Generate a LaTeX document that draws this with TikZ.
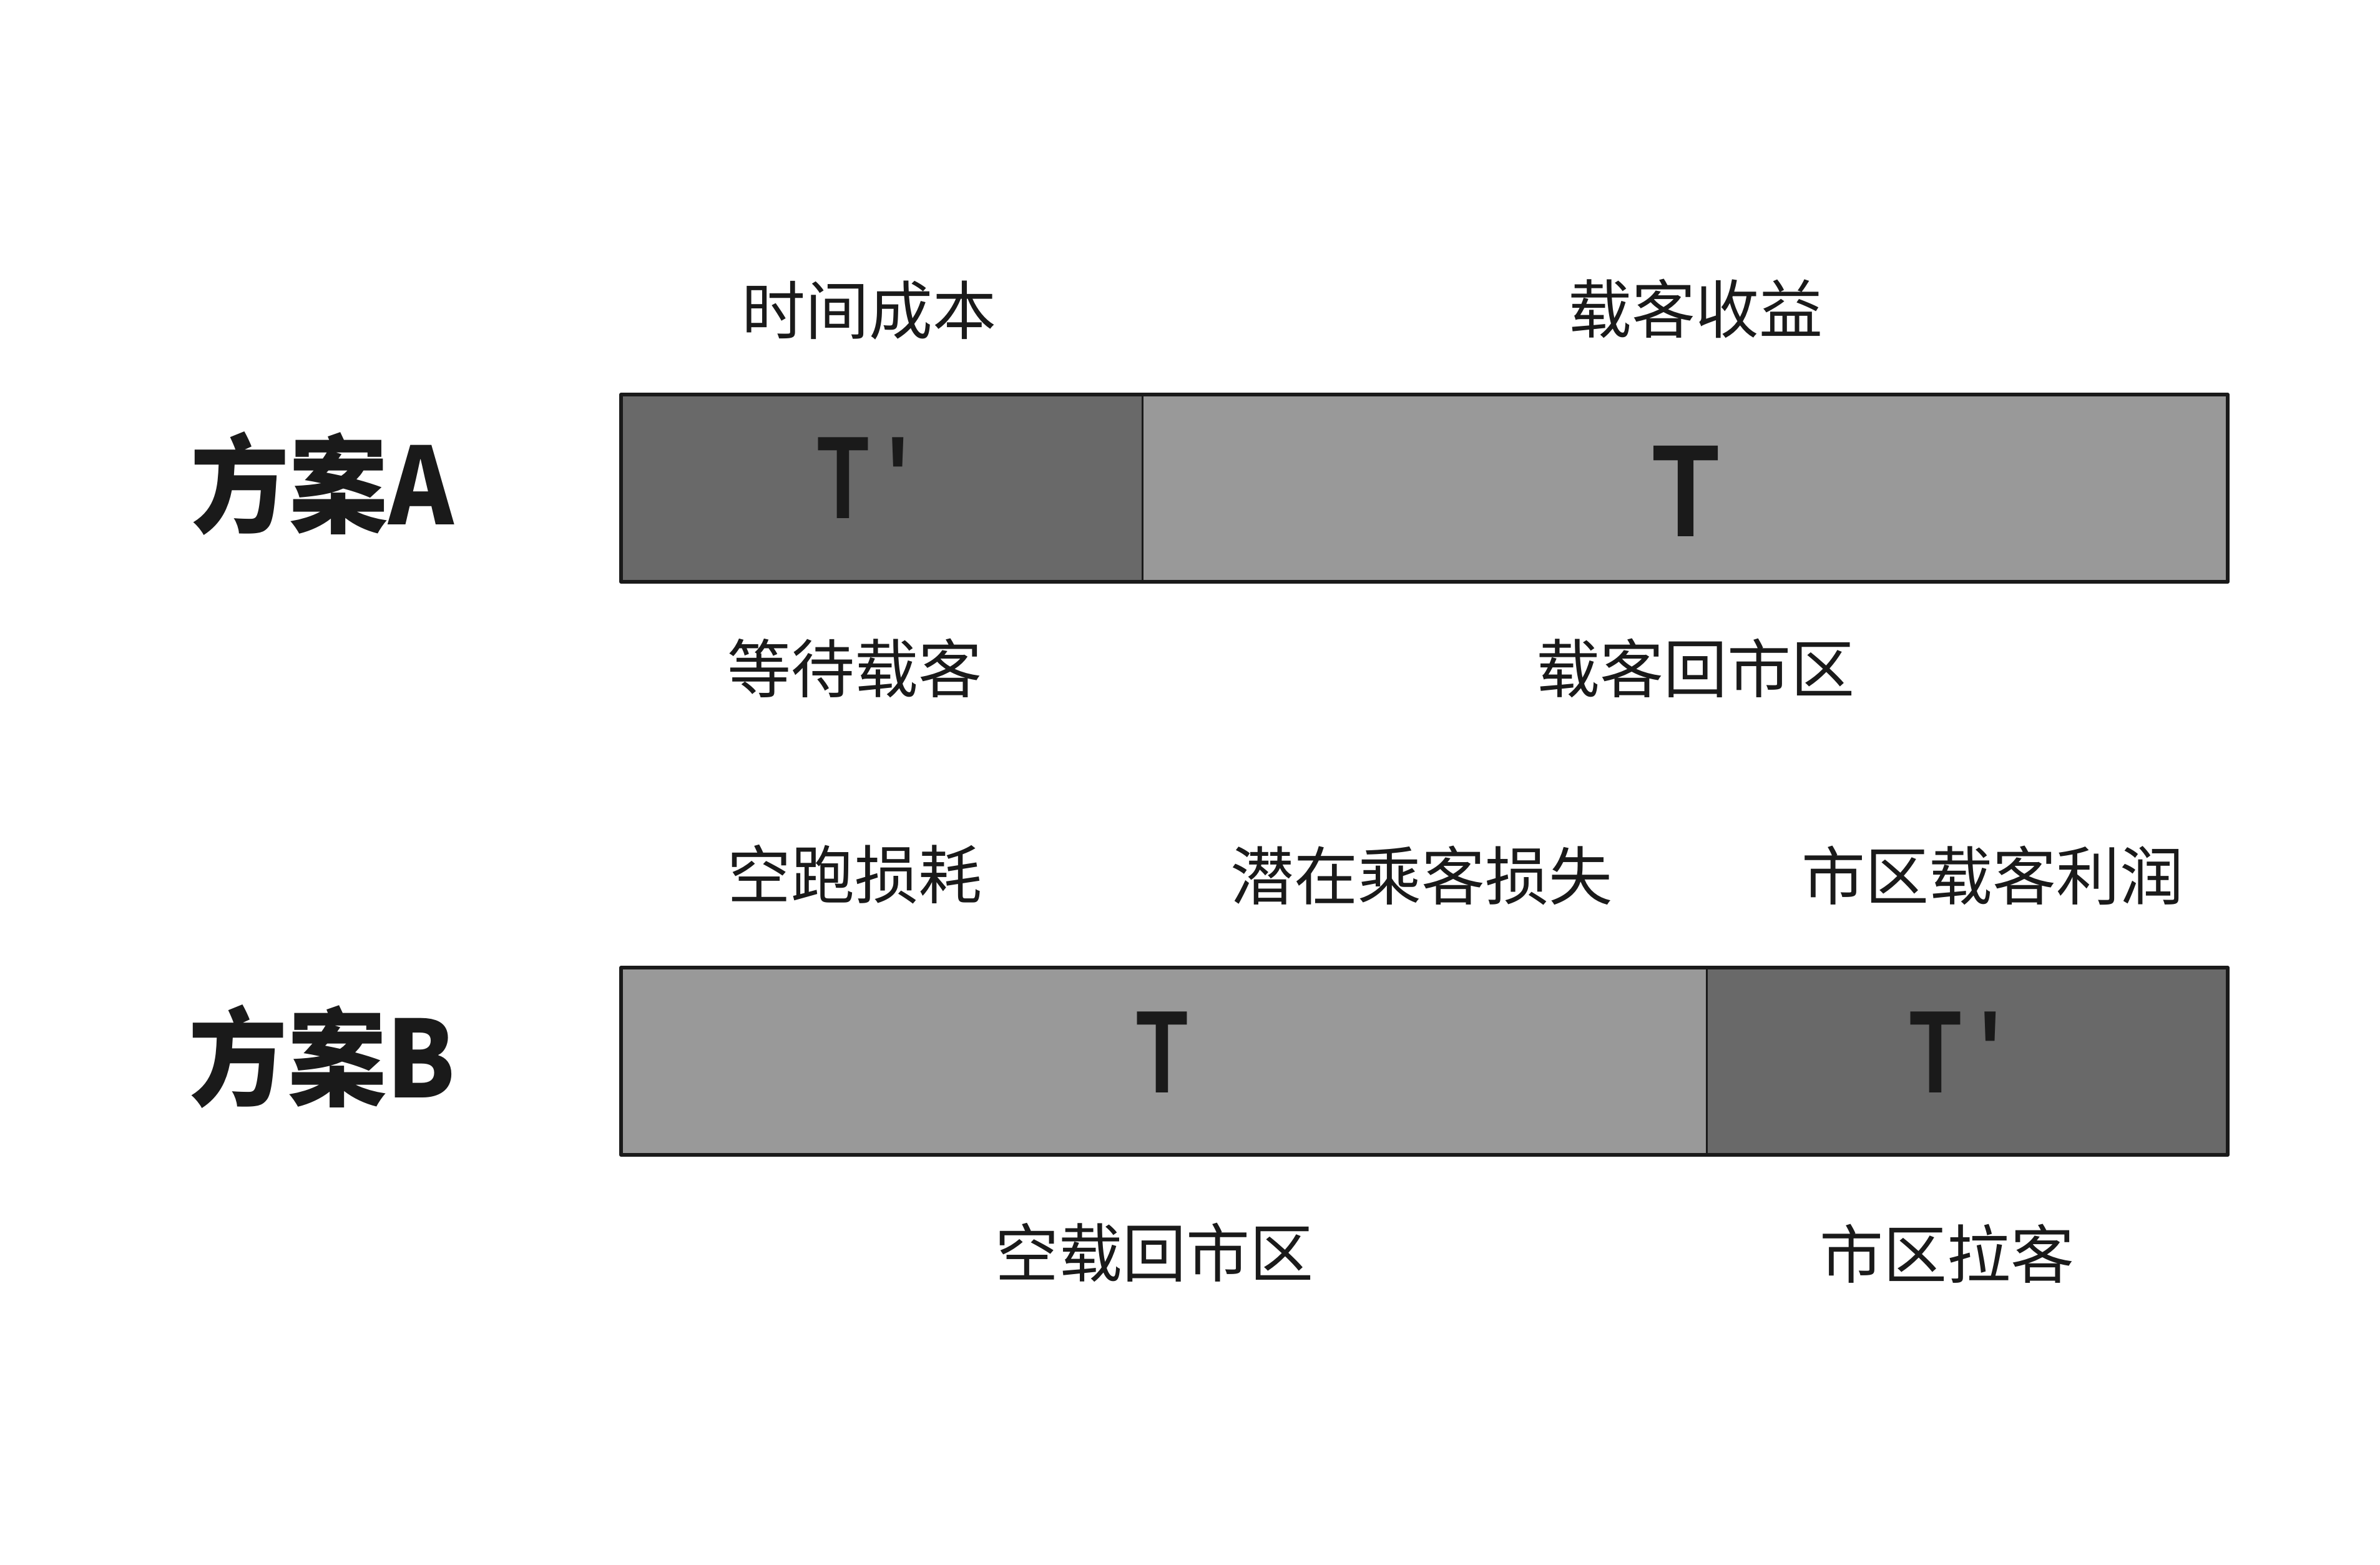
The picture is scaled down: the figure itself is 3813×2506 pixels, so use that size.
\documentclass[tikz,border=0pt]{standalone}
\usepackage{fontspec}
\newfontfamily\cjk{Noto Sans CJK SC}
\newfontfamily\tfont{Liberation Sans}
\definecolor{ink}{HTML}{1A1A1A}
\definecolor{darkfill}{HTML}{696969}
\definecolor{lightfill}{HTML}{999999}
\begin{document}
\begin{tikzpicture}[x=0.01cm,y=-0.01cm, line join=round, line cap=round,
    lbl/.style={text=ink, inner sep=0pt, font=\cjk\fontsize{29}{29}\selectfont},
    plan/.style={text=ink, inner sep=0pt, yscale=1.08, font=\cjk\bfseries\fontsize{45}{45}\selectfont},
    tlbl/.style={text=ink, inner sep=0pt, xscale=0.72, font=\tfont\bfseries\fontsize{53.6}{53.6}\selectfont},
    tbig/.style={tlbl, xscale=0.83/0.72, font=\tfont\bfseries\fontsize{60}{60}\selectfont},
    outer/.style={draw=ink, line width=1.7pt},
    split/.style={draw=ink, line width=0.85pt}]
    \useasboundingbox (0,0) rectangle (3813,2506);
    % plan A
    \fill[lightfill] (995,632) rectangle (3569,932);
    \fill[darkfill] (995,632) rectangle (1830,932);
    \draw[split] (1830,632) -- (1830,932);
    \draw[outer] (995,632) rectangle (3569,932);
    \node[plan] (planA) at (516,775) {方案A};
    \node[tlbl, anchor=west] (tA1) at (1309,766) {T\kern0.22em'};
    \node[tbig] (tA2) at (2701,787) {T};
    \node[lbl] (costA) at (1392,497) {时间成本};
    \node[lbl] (gainA) at (2716,494) {载客收益};
    \node[lbl] (waitA) at (1369,1070) {等待载客};
    \node[lbl] (backA) at (2716,1070) {载客回市区};
    % plan B
    \fill[lightfill] (995,1550) rectangle (3569,1850);
    \fill[darkfill] (2734,1550) rectangle (3569,1850);
    \draw[split] (2734,1550) -- (2734,1850);
    \draw[outer] (995,1550) rectangle (3569,1850);
    \node[plan] (planB) at (516,1693) {方案B};
    \node[tlbl] (tB1) at (1862,1686) {T};
    \node[tlbl, anchor=west] (tB2) at (3059,1686) {T\kern0.22em'};
    \node[lbl] (runB) at (1369,1401) {空跑损耗};
    \node[lbl] (lossB) at (2277,1402) {潜在乘客损失};
    \node[lbl] (gainB) at (3192,1402) {市区载客利润};
    \node[lbl] (backB) at (1849,2006) {空载回市区};
    \node[lbl] (pickB) at (3119,2008) {市区拉客};
\end{tikzpicture}
\end{document}
